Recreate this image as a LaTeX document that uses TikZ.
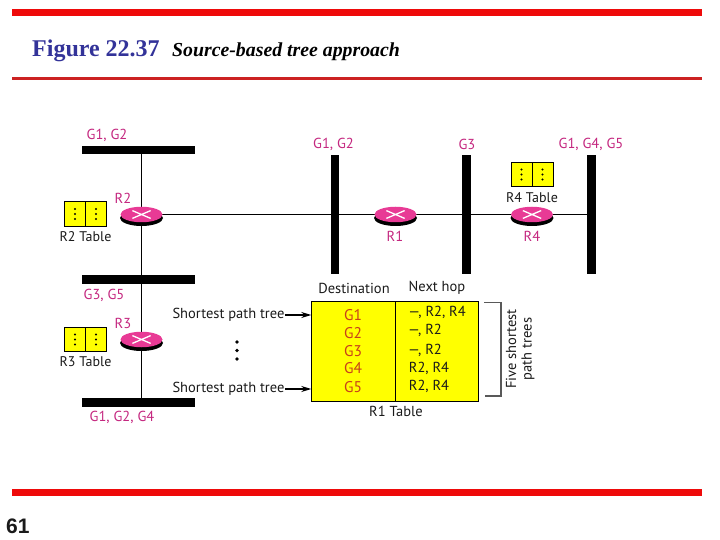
\documentclass[tikz,border=0pt]{standalone}
\usepackage{fontspec}
\setmainfont{Liberation Serif}
\newfontfamily\lab{PT Sans}
\newfontfamily\arialf{Liberation Sans}
\usetikzlibrary{shapes.geometric,shapes.misc,backgrounds,arrows.meta}
\definecolor{rulered}{HTML}{EE0A0A}
\definecolor{rulered2}{HTML}{CC2222}
\definecolor{titleblue}{HTML}{333399}
\definecolor{pinklab}{HTML}{C4277F}
\definecolor{routerpink}{HTML}{E83A95}
\definecolor{tableyellow}{HTML}{FFFF00}
\definecolor{destorange}{HTML}{C8401A}
\definecolor{darktext}{HTML}{1A1A1A}
\tikzset{
  x=1pt,y=-1pt,
  busbar/.style={fill=black,inner sep=0pt,outer sep=0pt},
  hbus/.style={busbar,minimum width=113pt,minimum height=8.5pt},
  vbus/.style={busbar,minimum width=8.5pt,minimum height=119pt},
  redrule/.style={fill=rulered,inner sep=0pt,outer sep=0pt,minimum width=690pt},
  routertop/.style={ellipse,fill=routerpink,inner sep=0pt,minimum width=42pt,minimum height=15.5pt},
  routerbase/.style={ellipse,fill=black,inner sep=0pt,minimum width=43pt,minimum height=16pt},
  routerx/.style={cross out,draw=white,line width=1.3pt,inner sep=0pt,minimum width=17pt,minimum height=6.5pt},
  tblcell/.style={draw=black,line width=0.7pt,fill=tableyellow,inner sep=0pt,minimum width=21pt,minimum height=24.5pt},
  tdot/.style={circle,fill=black,inner sep=0pt,minimum size=2.4pt},
  bigdot/.style={circle,fill=black,inner sep=0pt,minimum size=3.6pt},
  plab/.style={text=pinklab,font=\lab\fontsize{14.5}{16}\selectfont,inner sep=0pt},
  blab/.style={text=darktext,font=\lab\fontsize{14.5}{16}\selectfont,inner sep=0pt},
  tlab/.style={text=darktext,font=\lab\fontsize{14}{16}\selectfont,inner sep=0pt},
  dlab/.style={text=destorange,font=\lab\fontsize{15.5}{16}\selectfont,inner sep=0pt},
  link/.style={draw=black,line width=1.4pt},
  treearrow/.style={draw=black,line width=1.2pt,-{Stealth[length=10pt,width=6pt]}},
}
\newcommand{\routerat}[3]{%
  \node[routerbase] (#1base) at (#2,#3+3.5) {};
  \node[routertop] (#1) at (#2,#3) {};
  \node[routerx] (#1x) at (#2,#3) {};
}
\newcommand{\smalltable}[3]{%
  \node[tblcell] (#1a) at (#2-10.5,#3) {};
  \node[tblcell] (#1b) at (#2+10.5,#3) {};
  \foreach \dx/\tag in {-10.5/a,10.5/b} \foreach \dy/\n in {-5/1,0/2,5/3}
    \node[tdot] (#1\tag\n) at (#2+\dx,#3+\dy) {};
}
\begin{document}
\begin{tikzpicture}
\useasboundingbox (0,0) rectangle (720,540);
% rules
\node[redrule,minimum height=7pt] (ruleA) at (357,12.5) {};
\node[redrule,minimum height=3pt,fill=rulered2] (ruleB) at (357,78.5) {};
\node[redrule,minimum height=7pt] (ruleC) at (357,492.5) {};
% title
\node[anchor=base west,inner sep=0pt,text=titleblue,font=\fontsize{24}{26}\selectfont\bfseries] (fig) at (32,57) {Figure 22.37};
\node[anchor=base west,inner sep=0pt,text=black,font=\fontsize{19.8}{22}\selectfont\bfseries\itshape] (sub) at (172,57) {Source-based tree approach};
\node[anchor=base west,inner sep=0pt,text=darktext,font=\arialf\fontsize{21}{23}\selectfont\bfseries] (pg) at (6,533) {61};
% buses
\node[hbus] (top) at (138.5,150) {};
\node[hbus] (mid) at (138.5,279.5) {};
\node[hbus] (bot) at (138.5,402.5) {};
\node[vbus] (b1) at (335,214.5) {};
\node[vbus] (b3) at (466.5,214.5) {};
\node[vbus] (b4) at (591.5,214.5) {};
% routers
\routerat{r2}{141.5}{214.5}
\routerat{r3}{141.5}{339.5}
\routerat{r1}{395.5}{214.5}
\routerat{r4}{532}{214.5}
% small tables
\smalltable{t2}{85.5}{214}
\smalltable{t3}{85.5}{339.5}
\smalltable{t4}{532}{174.5}
% R1 table
\node[draw=black,line width=1pt,fill=tableyellow,inner sep=0pt,minimum width=83.5pt,minimum height=100pt] (dest) at (353.5,351) {};
\node[draw=black,line width=1pt,fill=tableyellow,inner sep=0pt,minimum width=83.5pt,minimum height=100pt] (hop) at (437,351) {};
% links
\begin{scope}[on background layer]
\draw[link] (r2 |- top) -- (r2.center);
\draw[link] (r2.center) -- (r2 |- mid);
\draw[link] (r3 |- mid) -- (r3.center);
\draw[link] (r3.center) -- (r3 |- bot);
\draw[link] (r2.center) -- (r1.center);
\draw[link] (r1.center) -- (r4.center);
\draw[link] (r4.center) -- (b4.center);
\end{scope}
% labels
\node[plab] (l1) at (107,135) {G1, G2};
\node[plab] (l2) at (123,198) {R2};
\node[tlab] (l3) at (85.5,236.5) {R2 Table};
\node[plab] (l4) at (333.5,144) {G1, G2};
\node[plab] (l5) at (467,144) {G3};
\node[plab] (l6) at (591,144) {G1, G4, G5};
\node[tlab] (l7) at (532,197.5) {R4 Table};
\node[plab] (l8) at (395,236) {R1};
\node[plab] (l9) at (532,236) {R4};
\node[plab] (l10) at (104,295) {G3, G5};
\node[plab] (l11) at (123,323.5) {R3};
\node[tlab] (l12) at (85.5,362) {R3 Table};
\node[plab] (l13) at (122,417) {G1, G2, G4};
\node[blab] (h1) at (354,288) {Destination};
\node[blab] (h2) at (437,288) {Next hop};
\node[blab] (h3) at (396,411) {R1 Table};
\node[blab] (s1) at (228.5,315) {Shortest path tree};
\node[blab] (s2) at (228.5,389) {Shortest path tree};
\node[bigdot] (d1) at (237,342) {};
\node[bigdot] (d2) at (237,350.5) {};
\node[bigdot] (d3) at (237,359) {};
% arrows
\coordinate (a1) at (dest.west |- s1);
\coordinate (a2) at (dest.west |- s2);
\draw[treearrow] (s1.east) -- (a1);
\draw[treearrow] (s2.east) -- (a2);
% rows
\node[dlab] (g1) at (353,315) {G1};
\node[dlab] (g2) at (353,333) {G2};
\node[dlab] (g3) at (353,351) {G3};
\node[dlab] (g4) at (353,368) {G4};
\node[dlab] (g5) at (353,387) {G5};
\node[blab] (n1) at (437,312) {—, R2, R4};
\node[blab] (n2) at (425,330) {—, R2};
\node[blab] (n3) at (425,350) {—, R2};
\node[blab] (n4) at (429,368) {R2, R4};
\node[blab] (n5) at (429,386) {R2, R4};
% bracket
\coordinate (ba) at (484,302.5);
\coordinate (bb) at (501,302.5);
\coordinate (bc) at (501,396);
\coordinate (bd) at (485,396);
\draw[draw=black!65,line width=1.2pt] (ba) -- (bb) -- (bc) -- (bd);
\node[blab,rotate=90] (f1) at (511,349) {Five shortest};
\node[blab,rotate=90] (f2) at (528,349) {path trees};
\end{tikzpicture}
\end{document}
